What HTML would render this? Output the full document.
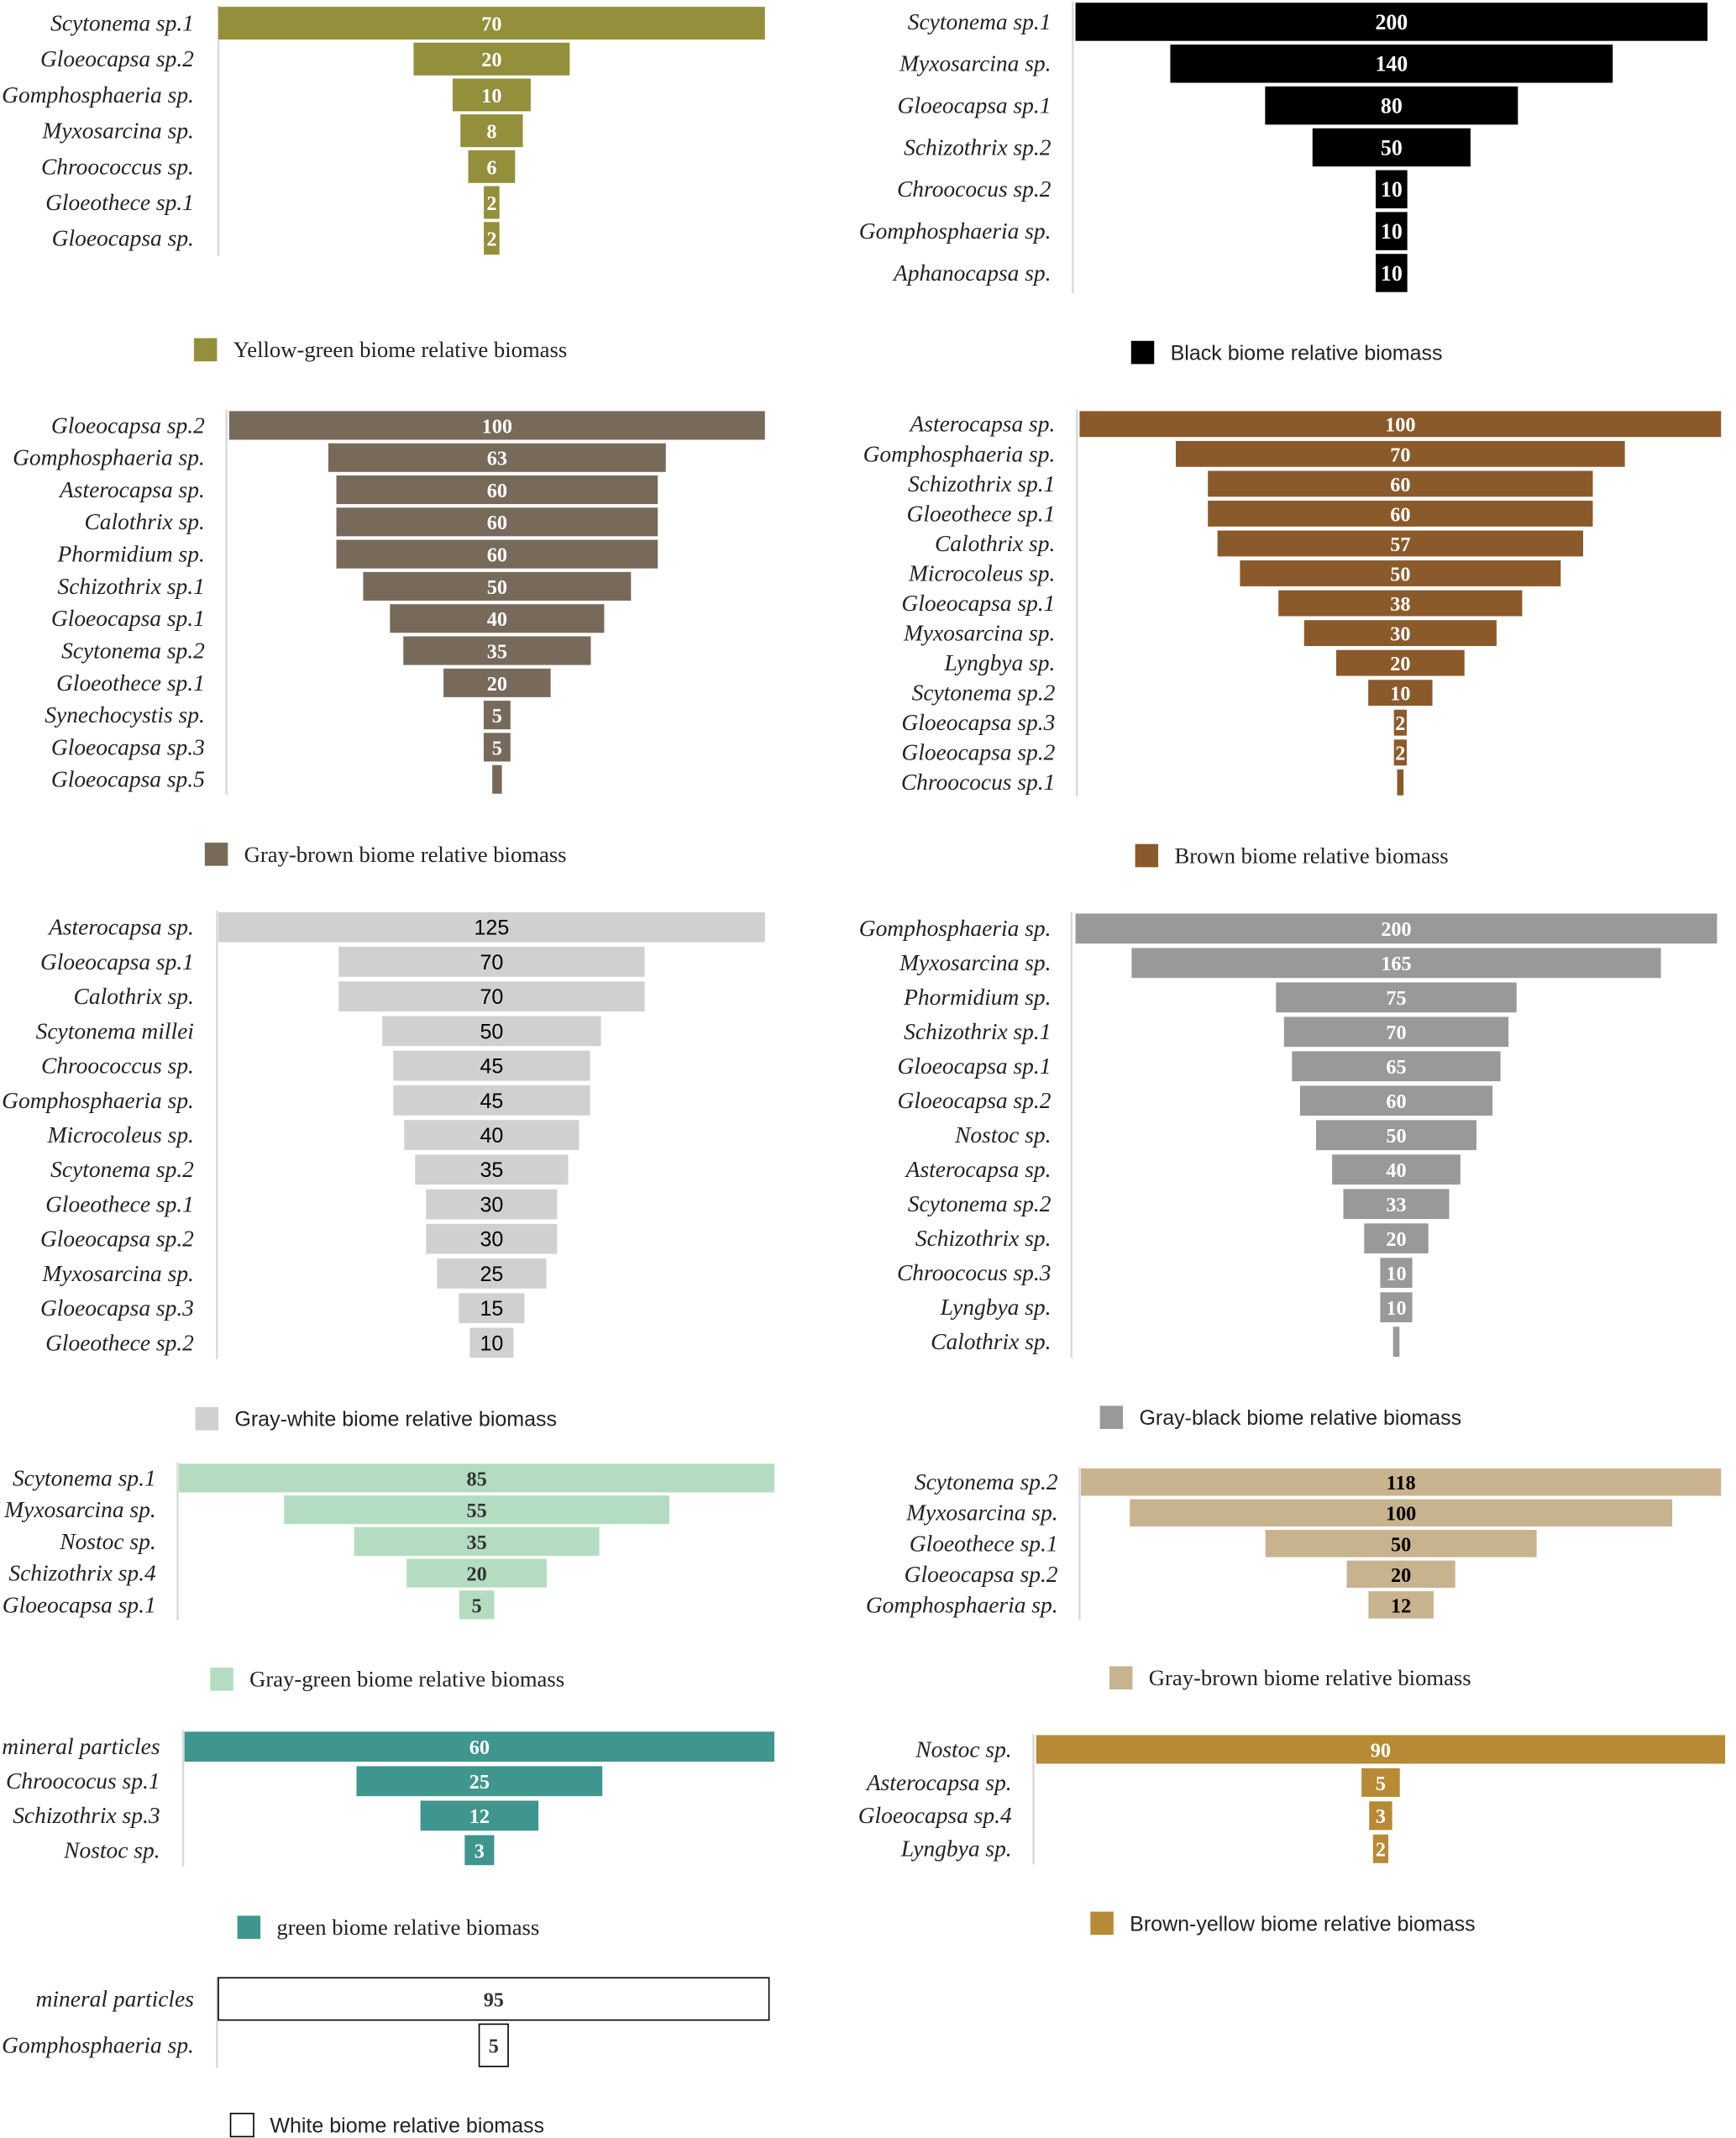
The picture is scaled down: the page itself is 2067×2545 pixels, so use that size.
<!DOCTYPE html>
<html><head><meta charset="utf-8"><style>
html,body{margin:0;padding:0;background:#fff;}
svg{display:block;}
</style></head><body>
<svg id="chart" width="2067" height="2545" viewBox="0 0 1280 1568" preserveAspectRatio="none" xmlns="http://www.w3.org/2000/svg"></svg>
<script>
// ---- data ----
const ygLabels=["Scytonema sp.1","Gloeocapsa sp.2","Gomphosphaeria sp.","Myxosarcina sp.","Chroococcus sp.","Gloeothece sp.1","Gloeocapsa sp."];
const ygValues=[70,20,10,8,6,2,2];
const ygPrinted=["70","20","10","8","6","2","2"];
const blLabels=["Scytonema sp.1","Myxosarcina sp.","Gloeocapsa sp.1","Schizothrix sp.2","Chroococus sp.2","Gomphosphaeria sp.","Aphanocapsa sp."];
const blValues=[200,140,80,50,10,10,10];
const blPrinted=["200","140","80","50","10","10","10"];
const gbLabels=["Gloeocapsa sp.2","Gomphosphaeria sp.","Asterocapsa sp.","Calothrix sp.","Phormidium sp.","Schizothrix sp.1","Gloeocapsa sp.1","Scytonema sp.2","Gloeothece sp.1","Synechocystis sp.","Gloeocapsa sp.3","Gloeocapsa sp.5"];
const gbValues=[100,63,60,60,60,50,40,35,20,5,5,1.8];
const gbPrinted=["100","63","60","60","60","50","40","35","20","5","5",""];
const brLabels=["Asterocapsa sp.","Gomphosphaeria sp.","Schizothrix sp.1","Gloeothece sp.1","Calothrix sp.","Microcoleus sp.","Gloeocapsa sp.1","Myxosarcina sp.","Lyngbya sp.","Scytonema sp.2","Gloeocapsa sp.3","Gloeocapsa sp.2","Chroococus sp.1"];
const brValues=[100,70,60,60,57,50,38,30,20,10,2,2,1];
const brPrinted=["100","70","60","60","57","50","38","30","20","10","2","2",""];
const gwLabels=["Asterocapsa sp.","Gloeocapsa sp.1","Calothrix sp.","Scytonema millei","Chroococcus sp.","Gomphosphaeria sp.","Microcoleus sp.","Scytonema sp.2","Gloeothece sp.1","Gloeocapsa sp.2","Myxosarcina sp.","Gloeocapsa sp.3","Gloeothece sp.2"];
const gwValues=[125,70,70,50,45,45,40,35,30,30,25,15,10];
const gwPrinted=["125","70","70","50","45","45","40","35","30","30","25","15","10"];
const gkLabels=["Gomphosphaeria sp.","Myxosarcina sp.","Phormidium sp.","Schizothrix sp.1","Gloeocapsa sp.1","Gloeocapsa sp.2","Nostoc sp.","Asterocapsa sp.","Scytonema sp.2","Schizothrix sp.","Chroococus sp.3","Lyngbya sp.","Calothrix sp."];
const gkValues=[200,165,75,70,65,60,50,40,33,20,10,10,2];
const gkPrinted=["200","165","75","70","65","60","50","40","33","20","10","10",""];
const ggLabels=["Scytonema sp.1","Myxosarcina sp.","Nostoc sp.","Schizothrix sp.4","Gloeocapsa sp.1"];
const ggValues=[85,55,35,20,5];
const ggPrinted=["85","55","35","20","5"];
const tnLabels=["Scytonema sp.2","Myxosarcina sp.","Gloeothece sp.1","Gloeocapsa sp.2","Gomphosphaeria sp."];
const tnValues=[118,100,50,20,12];
const tnPrinted=["118","100","50","20","12"];
const grLabels=["mineral particles","Chroococus sp.1","Schizothrix sp.3","Nostoc sp."];
const grValues=[60,25,12,3];
const grPrinted=["60","25","12","3"];
const byLabels=["Nostoc sp.","Asterocapsa sp.","Gloeocapsa sp.4","Lyngbya sp."];
const byValues=[90,5,3,2];
const byPrinted=["90","5","3","2"];
const whLabels=["mineral particles","Gomphosphaeria sp."];
const whValues=[95,5];
const whPrinted=["95","5"];

const SERIF='"Liberation Serif", serif', SANS='"Liberation Sans", sans-serif';
const panels=[
 {name:"yellow-green",labels:ygLabels,values:ygValues,printed:ygPrinted,axis:161,x0:161,x1:564,y0:17,step:26.3,h:24,color:"#948f3a",vcol:"#fff",vfont:SERIF,vsize:15,lx:143,leg:[143,248],legText:"Yellow-green biome relative biomass",legFont:SERIF},
 {name:"black",labels:blLabels,values:blValues,printed:blPrinted,axis:791,x0:793,x1:1259,y0:16,step:30.7,h:28,color:"#000",vcol:"#fff",vfont:SERIF,vsize:16,lx:775,leg:[834,250],legText:"Black biome relative biomass",legFont:SANS},
 {name:"gray-brown",labels:gbLabels,values:gbValues,printed:gbPrinted,axis:167,x0:169,x1:564,y0:312,step:23.6,h:21,color:"#786a5a",vcol:"#fff",vfont:SERIF,vsize:15,lx:151,leg:[151,618],legText:"Gray-brown biome relative biomass",legFont:SERIF},
 {name:"brown",labels:brLabels,values:brValues,printed:brPrinted,axis:794,x0:796,x1:1269,y0:311,step:21.9,h:19,color:"#8b5a2b",vcol:"#fff",vfont:SERIF,vsize:15,lx:778,leg:[837,619],legText:"Brown biome relative biomass",legFont:SERIF},
 {name:"gray-white",labels:gwLabels,values:gwValues,printed:gwPrinted,axis:160,x0:161,x1:564,y0:680,step:25.4,h:22,color:"#d0d0d0",vcol:"#000",vfont:SANS,vsize:15.5,vweight:"normal",lx:143,leg:[144,1032],legText:"Gray-white biome relative biomass",legFont:SANS},
 {name:"gray-black",labels:gkLabels,values:gkValues,printed:gkPrinted,axis:790,x0:793,x1:1266,y0:681,step:25.25,h:22,color:"#999",vcol:"#fff",vfont:SERIF,vsize:15,lx:775,leg:[811,1031],legText:"Gray-black biome relative biomass",legFont:SANS},
 {name:"gray-green",labels:ggLabels,values:ggValues,printed:ggPrinted,axis:131,x0:132,x1:571,y0:1084,step:23.25,h:21,color:"#b3dcc0",vcol:"#333",vfont:SERIF,vsize:15,lx:115,leg:[155,1223],legText:"Gray-green biome relative biomass",legFont:SERIF},
 {name:"gray-brown-2",labels:tnLabels,values:tnValues,printed:tnPrinted,axis:796,x0:797,x1:1269,y0:1087,step:22.5,h:20,color:"#c8b38f",vcol:"#000",vfont:SERIF,vsize:15,lx:780,leg:[818,1222],legText:"Gray-brown biome relative biomass",legFont:SERIF},
 {name:"green",labels:grLabels,values:grValues,printed:grPrinted,axis:135,x0:136,x1:571,y0:1281,step:25.3,h:22,color:"#3f968e",vcol:"#fff",vfont:SERIF,vsize:15,lx:118,leg:[175,1405],legText:"green biome relative biomass",legFont:SERIF},
 {name:"brown-yellow",labels:byLabels,values:byValues,printed:byPrinted,axis:762,x0:764,x1:1272,y0:1283,step:24.3,h:21,color:"#b78a36",vcol:"#fff",vfont:SERIF,vsize:15,lx:746,leg:[804,1402],legText:"Brown-yellow biome relative biomass",legFont:SANS},
 {name:"white",labels:whLabels,values:whValues,printed:whPrinted,axis:160,x0:161,x1:567,y0:1466,step:34,h:31,color:"#fff",stroke:"#000",vcol:"#333",vfont:SERIF,vsize:15,lx:143,leg:[170,1550],legText:"White biome relative biomass",legFont:SANS}
];
const svg=document.getElementById('chart');
const NS="http://www.w3.org/2000/svg";
function mk(tag,attrs,parent){const e=document.createElementNS(NS,tag);for(const k in attrs)e.setAttribute(k,attrs[k]);parent.appendChild(e);return e;}
panels.forEach(p=>{
  const g=mk('g',{},svg);
  
  
  const max=Math.max(...p.values);
  const cx=(p.x0+p.x1)/2, full=p.x1-p.x0;
  const xw=v=>v/max*full;
  const yc=i=>p.y0+i*p.step;
  const n=p.values.length;
  const ax=mk('line',{x1:p.axis,x2:p.axis,y1:yc(0)-p.h/2-1,y2:yc(n-1)+p.h/2+1,stroke:"#d9d9d9","stroke-width":1.5},g);
  
  
  p.values.forEach((v,i)=>{
    const w=xw(v);
    const r=mk('rect',{x:cx-w/2,y:yc(i)-p.h/2,width:w,height:p.h,fill:p.color},g);
    if(p.stroke){r.setAttribute('stroke',p.stroke);r.setAttribute('stroke-width',1);}
    
    
    const t=mk('text',{x:p.lx,y:yc(i)+5.5,'text-anchor':'end','font-family':SERIF,'font-style':'italic','font-size':17,fill:"#222"},g);
    t.textContent=p.labels[i];
    
    
    if(p.printed[i]){
      const vt=mk('text',{x:cx,y:yc(i)+5.5,'text-anchor':'middle','font-family':p.vfont,'font-weight':p.vweight||'bold','font-size':p.vsize,fill:p.vcol},g);
      vt.textContent=p.printed[i];
      
      
    }
  });
  const ls=mk('rect',{x:p.leg[0],y:p.leg[1],width:17,height:17,fill:p.color},g);
  if(p.stroke){ls.setAttribute('stroke',p.stroke);ls.setAttribute('stroke-width',1);}
  
  
  const lt=mk('text',{x:p.leg[0]+29,y:p.leg[1]+14,'font-family':p.legFont,'font-size':p.legFont===SANS?15.5:16.5,fill:"#222"},g);
  lt.textContent=p.legText;
  
  
});
</script>
</body></html>
